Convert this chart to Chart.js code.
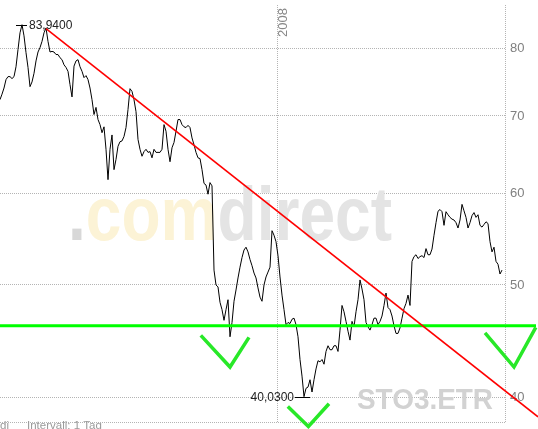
<!DOCTYPE html>
<html>
<head>
<meta charset="utf-8">
<script src="https://cdn.jsdelivr.net/npm/chart.js@4/dist/chart.umd.min.js"></script>
<style>
  html, body { margin: 0; padding: 0; background: #fff; }
  canvas { display: block; }
</style>
</head>
<body>
<canvas id="kurs" width="538" height="429"></canvas>
<script>
// daily closes, one per trading day (index = day)
const closes = [
  72.31, 73.1, 74.0, 75.25, 75.7, 75.7, 75.4, 75.7, 77.2, 79.9,
  82.6, 83.94, 82.1, 79.4, 77.1, 74.2, 74.9, 76.2, 78.1, 79.5,
  80.2, 81.2, 82.6, 83.4, 81.2, 79.5, 79.6, 79.5, 79.1, 79.1,
  78.6, 78.3, 77.5, 77.1, 76.5, 74.5, 72.7, 77.3, 78.1, 78.3,
  77.2, 76.5, 75.55, 75.85, 75.25, 74.0, 72.3, 70.2, 71.2, 69.5,
  68.8, 67.7, 68.5, 65.5, 61.66, 65.5, 67.4, 62.9, 64.2, 65.9,
  66.5, 66.6, 67.2, 68.4, 70.9, 73.9, 73.5, 72.3, 70.6, 66.8,
  65.5, 64.6, 65.2, 65.5, 65.1, 65.2, 64.4, 65.5, 65.1, 65.1,
  65.1, 65.5, 68.8, 67.9, 65.5, 63.9, 65.7, 66.4, 67.9, 69.5,
  69.5, 68.8, 68.5, 68.4, 68.7, 68.4, 67.0, 66.1, 65.1, 64.4,
  64.3, 62.9, 61.2, 61.0, 59.9, 61.3, 60.9, 51.5, 50.0, 49.8,
  48.3, 47.6, 46.6, 47.6, 48.55, 45.1, 46.4, 48.4, 49.5, 50.7,
  51.8, 52.8, 53.6, 53.9, 53.4, 52.6, 51.95, 51.2, 50.7, 49.7,
  48.8, 48.4, 50.0, 50.8, 51.3, 51.8, 55.7, 55.2, 54.5, 53.0,
  50.8, 49.0, 47.6, 46.2, 46.4, 46.3, 46.7, 46.8, 46.2, 45.1,
  43.1, 41.7, 40.03, 40.7, 40.8, 41.4, 40.4, 41.4, 42.3, 43.0,
  42.9, 43.1, 42.7, 43.8, 44.3, 43.95, 43.95, 44.3, 44.3, 43.8,
  45.7, 48.0, 47.4, 46.5, 45.6, 44.8, 46.5, 46.0, 47.4, 48.55,
  50.5, 49.6, 48.55, 46.4, 46.0, 45.7, 46.2, 46.8, 46.8, 46.2,
  46.5, 47.0, 48.0, 49.2, 47.8, 47.6, 47.0, 46.1, 45.4, 45.4,
  45.9, 46.8, 47.7, 48.2, 49.0, 48.0, 52.4, 52.9, 53.1, 52.7,
  52.9, 53.0, 52.8, 53.75, 53.1, 53.1, 53.7, 55.2, 56.6, 57.9,
  58.1, 57.85, 56.3, 57.85, 57.5, 57.2, 57.0, 56.9, 56.6, 56.0,
  56.9, 58.7, 57.95, 57.2, 56.0, 56.6, 57.4, 57.75, 57.2, 57.5,
  56.3, 56.1, 56.4, 56.7, 56.5, 54.5, 53.4, 53.9, 52.4, 52.1,
  51.1, 51.5
];

const yTicks = [40, 50, 60, 70, 80];
const yMin = 38.06;
const yMax = 87.3;
const xMax = 252.5;

const yearDays = [138.5];
const yearLabels = ['2008'];

// drawn annotations, in (day, price)
const trendFrom = [23, 83.3];
const trendTo = [269, 38.45];
const supportLevel = 46.1;
const supportDays = [0, 268];
const checks = [
  [[100.4, 45.22], [115, 42.46], [124.5, 45.04]],
  [[143.9, 39.26], [154.2, 37.72], [164.5, 39.47]],
  [[242.5, 45.44], [257, 42.46], [267.9, 45.95]]
];

const FONT = '"Liberation Sans", Arial, sans-serif';
const gridColor = '#b4b4b4';

function drawScaledText(ctx, parts, left, baseline, width, font) {
  ctx.font = font;
  let total = 0;
  parts.forEach(p => total += ctx.measureText(p[0]).width);
  ctx.save();
  ctx.translate(left, baseline);
  ctx.scale(width / total, 1);
  let cx = 0;
  parts.forEach(p => {
    ctx.fillStyle = p[1];
    ctx.fillText(p[0], cx, 0);
    cx += ctx.measureText(p[0]).width;
  });
  ctx.restore();
}

const overlay = {
  id: 'overlay',
  beforeDatasetsDraw(chart) {
    const ctx = chart.ctx;
    ctx.save();
    ctx.textBaseline = 'alphabetic';
    ctx.textAlign = 'left';
    drawScaledText(ctx, [['.', '#d8d8d8'], ['com', '#fcf3d6'], ['direct', '#e4e4e4']],
      68, 240, 324, 'bold 76px ' + FONT);
    drawScaledText(ctx, [['STO3.ETR', '#d2d2d2']], 357, 409, 136, 'bold 29px ' + FONT);
    ctx.restore();
  },
  afterDatasetsDraw(chart) {
    const {ctx, scales: {x, y}} = chart;
    const px = d => x.getPixelForValue(d);
    const py = v => y.getPixelForValue(v);
    ctx.save();

    // support line
    ctx.strokeStyle = '#00ff00';
    ctx.lineWidth = 3;
    ctx.beginPath();
    ctx.moveTo(px(supportDays[0]), py(supportLevel));
    ctx.lineTo(px(supportDays[1]), py(supportLevel));
    ctx.stroke();

    // trend line
    ctx.strokeStyle = '#ff0000';
    ctx.lineWidth = 1.6;
    ctx.beginPath();
    ctx.moveTo(px(trendFrom[0]), py(trendFrom[1]));
    ctx.lineTo(px(trendTo[0]), py(trendTo[1]));
    ctx.stroke();

    // check marks
    ctx.strokeStyle = '#28e828';
    ctx.lineWidth = 3.5;
    ctx.lineJoin = 'miter';
    checks.forEach(c => {
      ctx.beginPath();
      c.forEach((p, i) => {
        if (i === 0) ctx.moveTo(px(p[0]), py(p[1]));
        else ctx.lineTo(px(p[0]), py(p[1]));
      });
      ctx.stroke();
    });

    // high / low markers
    const hi = closes.indexOf(Math.max(...closes));
    const lo = closes.indexOf(Math.min(...closes));
    const fmt = v => v.toFixed(4).replace('.', ',');
    ctx.strokeStyle = '#000';
    ctx.lineWidth = 1;
    ctx.fillStyle = '#222';
    ctx.font = '12px ' + FONT;
    ctx.textBaseline = 'middle';
    let hx = px(hi), hy = Math.round(py(closes[hi])) + 0.5;
    ctx.beginPath(); ctx.moveTo(hx - 6, hy); ctx.lineTo(hx + 5, hy); ctx.stroke();
    ctx.textAlign = 'left';
    ctx.fillText(fmt(closes[hi]), hx + 7, hy);
    let lx = px(lo), ly = Math.round(py(closes[lo])) + 0.5;
    ctx.beginPath(); ctx.moveTo(lx - 9, ly); ctx.lineTo(lx + 6, ly); ctx.stroke();
    ctx.textAlign = 'right';
    ctx.fillText(fmt(closes[lo]), lx - 10, ly);

    // year labels, rotated
    ctx.fillStyle = '#888';
    ctx.font = '13px ' + FONT;
    ctx.textAlign = 'left';
    ctx.textBaseline = 'alphabetic';
    yearDays.forEach((d, i) => {
      ctx.save();
      ctx.translate(px(d) + 9.5, chart.chartArea.top + 32);
      ctx.rotate(-Math.PI / 2);
      ctx.fillText(yearLabels[i], 0, 0);
      ctx.restore();
    });

    // footer
    ctx.fillStyle = '#9a9a9a';
    ctx.font = '11.5px ' + FONT;
    ctx.textBaseline = 'top';
    ctx.fillText('di', 0, 420);
    ctx.fillText('Intervall: 1 Tag', 27, 420);
    ctx.restore();
  }
};

const canvas = document.getElementById('kurs');
if (canvas) {
  const ctx = canvas.getContext('2d');
  new Chart(ctx, {
    type: 'line',
    data: {
      datasets: [{
        data: closes.map((v, i) => ({x: i, y: v})),
        borderColor: '#000',
        borderWidth: 1,
        pointRadius: 0,
        fill: false,
        tension: 0
      }]
    },
    options: {
      responsive: false,
      animation: false,
      devicePixelRatio: 1,
      layout: { padding: { top: 5, left: 0, right: 0, bottom: 0 } },
      plugins: {
        legend: { display: false },
        tooltip: { enabled: false }
      },
      scales: {
        x: {
          type: 'linear',
          min: 0,
          max: xMax,
          afterBuildTicks: s => { s.ticks = [...yearDays, xMax].map(v => ({value: v})); },
          afterFit: s => { s.height = 7; s.paddingLeft = 0; s.paddingRight = 0; },
          ticks: { display: false },
          grid: { color: gridColor, drawTicks: false },
          border: { display: false, dash: [1, 1] }
        },
        y: {
          type: 'logarithmic',
          position: 'right',
          min: yMin,
          max: yMax,
          afterBuildTicks: s => { s.ticks = [yMin, ...yTicks].map(v => ({value: v})); },
          afterFit: s => { s.width = 33; s.paddingTop = 0; s.paddingBottom = 0; },
          ticks: {
            color: '#808080',
            font: { family: FONT, size: 13 },
            padding: 5,
            callback: v => yTicks.includes(v) ? String(v) : ''
          },
          grid: { color: gridColor, drawTicks: false },
          border: { display: false, dash: [1, 1] }
        }
      }
    },
    plugins: [overlay]
  });
}
</script>
</body>
</html>
